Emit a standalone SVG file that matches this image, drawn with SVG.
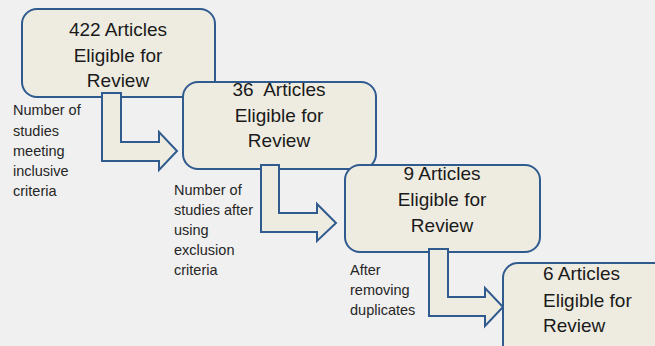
<svg xmlns="http://www.w3.org/2000/svg" width="655" height="346" viewBox="0 0 655 346">
<style>
.box{fill:#eeece1;stroke:#2f5b8f;stroke-width:2}
.arr{fill:#eeece1;stroke:#2f5b8f;stroke-width:2;stroke-linejoin:miter}
.t{font-family:"Liberation Sans",Arial,sans-serif;font-size:19px;fill:#1a1a1a;text-anchor:middle;white-space:pre}
.tl{font-family:"Liberation Sans",Arial,sans-serif;font-size:19px;fill:#1a1a1a;white-space:pre}
.lab{font-family:"Liberation Sans",Arial,sans-serif;font-size:14.5px;fill:#262626}
</style>
<rect width="655" height="346" fill="#f0f0f0"/>
<g id="node1">
<rect class="box" x="22" y="9" width="193" height="88" rx="15"/>
<text class="t" x="118" y="36">422 Articles</text>
<text class="t" x="118" y="62">Eligible for</text>
<text class="t" x="118" y="87">Review</text>
</g>
<g id="connectors1">
<path class="arr" d="M102,93 H121 V142 H159 V132 L177,151 L159,170 V161 H102 Z"/>
</g>
<g id="node2">
<rect class="box" x="183" y="82" width="193" height="87" rx="15"/>
<text class="t" x="279" y="96">36  Articles</text>
<text class="t" x="279" y="122">Eligible for</text>
<text class="t" x="279" y="147">Review</text>
</g>
<g id="connectors2">
<path class="arr" d="M261,165 H279 V213 H317 V204 L336,223 L317,241 V232 H261 Z"/>
</g>
<g id="node3">
<rect class="box" x="345" y="165" width="195" height="87" rx="15"/>
<text class="t" x="442" y="180">9 Articles</text>
<text class="t" x="442" y="206">Eligible for</text>
<text class="t" x="442" y="232">Review</text>
</g>
<g id="connectors3">
<path class="arr" d="M429,249 H448 V297 H485 V288 L503,307 L485,326 V316 H429 Z"/>
</g>
<g id="node4">
<rect class="box" x="503" y="263" width="195" height="100" rx="15"/>
<text class="tl" x="543" y="280">6 Articles</text>
<text class="tl" x="543" y="307">Eligible for</text>
<text class="tl" x="543" y="332">Review</text>
</g>
<g id="labels">
<text class="lab" x="13" y="115">Number of</text>
<text class="lab" x="13" y="135.5">studies</text>
<text class="lab" x="13" y="155.5">meeting</text>
<text class="lab" x="13" y="176">inclusive</text>
<text class="lab" x="13" y="196">criteria</text>
<text class="lab" x="174" y="195">Number of</text>
<text class="lab" x="174" y="215">studies after</text>
<text class="lab" x="174" y="235">using</text>
<text class="lab" x="174" y="255">exclusion</text>
<text class="lab" x="174" y="275">criteria</text>
<text class="lab" x="350" y="275">After</text>
<text class="lab" x="350" y="295">removing</text>
<text class="lab" x="350" y="315">duplicates</text>
</g>
</svg>
